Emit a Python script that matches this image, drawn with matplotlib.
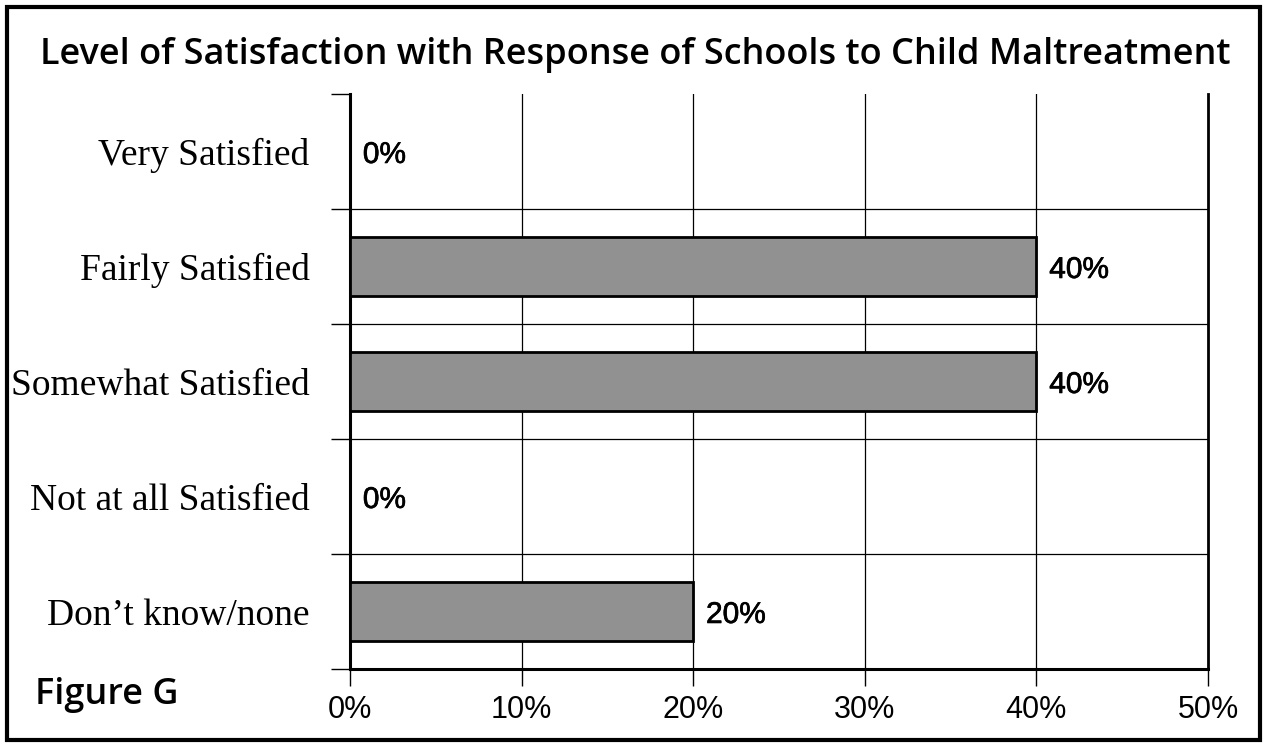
import matplotlib.pyplot as plt
import matplotlib.patheffects as pe
from matplotlib.patches import Rectangle

categories = ["Very Satisfied", "Fairly Satisfied", "Somewhat Satisfied",
              "Not at all Satisfied", "Don\u2019t know/none"]
percent = [0, 40, 40, 0, 20]
x_ticks = [0, 10, 20, 30, 40, 50]

title = "Level of Satisfaction with Response of Schools to Child Maltreatment"

fig = plt.figure(figsize=(12.67, 7.43), dpi=100)
ax = fig.add_axes([0.2762, 0.0996, 0.6772, 0.7739])

pos = list(range(len(categories)))
ax.barh(pos, percent, height=0.51, color="#919191", edgecolor="black",
        linewidth=2, zorder=3)

# slightly heavier than the tick labels
heavy = [pe.withStroke(linewidth=0.5, foreground="black")]
for y, v in zip(pos, percent):
    ax.text(v + 0.75, y + 0.03, f"{v}%", va="center", ha="left",
            fontsize=21.5, family="Liberation Sans", path_effects=heavy,
            zorder=4)

ax.set_xlim(0, 50)
ax.set_ylim(len(categories) - 0.5, -0.5)

# vertical grid and category separators
for x in x_ticks[1:-1]:
    ax.axvline(x, color="black", lw=0.9, zorder=1)
for b in range(1, len(categories)):
    ax.axhline(b - 0.5, color="black", lw=0.9, zorder=1)

ax.set_xticks(x_ticks)
ax.set_xticklabels([f"{t}%" for t in x_ticks], fontsize=22,
                   family="Liberation Sans")
ax.tick_params(axis="x", direction="out", length=12, width=1, pad=7)

ax.set_yticks(pos)
ax.set_yticklabels(categories, fontsize=27, family="Liberation Serif")
ax.tick_params(axis="y", which="major", length=0, pad=29)
ax.set_yticks([b - 0.5 for b in range(len(categories) + 1)], minor=True)
ax.tick_params(axis="y", which="minor", direction="out", length=13.5, width=1)

ax.spines["top"].set_visible(False)
ax.spines["left"].set_linewidth(2.2)
ax.spines["bottom"].set_linewidth(2.2)
ax.spines["right"].set_linewidth(2)

fig.text(0.501, 0.926, title, ha="center", va="center", fontsize=26,
         fontweight="semibold", family="Open Sans")
fig.text(0.028, 0.064, "Figure G", ha="left", va="center", fontsize=26,
         fontweight="semibold", family="Open Sans")

fig.patches.append(Rectangle((0.0055, 0.004), 0.989, 0.987,
                             transform=fig.transFigure, fill=False,
                             edgecolor="black", lw=3))

fig.savefig("out.png", dpi=100)
